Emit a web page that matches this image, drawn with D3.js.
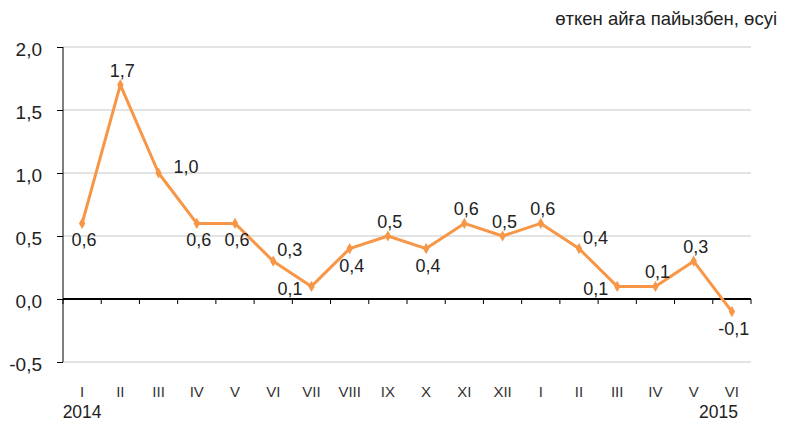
<!DOCTYPE html>
<html lang="kk">
<head>
<meta charset="UTF-8">
<title>Chart</title>
<style>
  body { margin: 0; background: #fff; }
  svg { font-family: "Liberation Sans", Arial, sans-serif; }
  .grid line { stroke: #c8c8c8; stroke-width: 1; }
</style>
</head>
<body>
<svg id="chart" width="786" height="423"></svg>
<script src="https://d3js.org/d3.v7.min.js"></script>
<script>
// data
const months = ["I", "II", "III", "IV", "V", "VI", "VII", "VIII", "IX", "X", "XI", "XII",
                "I", "II", "III", "IV", "V", "VI"];
const values = [0.6, 1.7, 1.0, 0.6, 0.6, 0.3, 0.1, 0.4, 0.5, 0.4, 0.6, 0.5,
                0.6, 0.4, 0.1, 0.1, 0.3, -0.1];
const yTicks = [-0.5, 0, 0.5, 1.0, 1.5, 2.0];
const years = ["2014", "2015"];
const title = "өткен айға пайызбен, өсуі";
// where each value label sits relative to its point
const labelPos = ["below", "above", "right", "below", "below", "upright", "left", "below", "above",
                  "below", "above", "above", "above", "upright", "left", "above", "above", "below"];

const svg = d3.select("#chart");
const mLeft = 63, mRight = 751, mTop = 47, mBottom = 362;

const idx = months.map((m, i) => i);
const x = d3.scaleBand().domain(idx).range([mLeft, mRight]);
const y = d3.scaleLinear().domain([-0.5, 2.0]).range([mBottom, mTop]);
const cx = i => x(i) + x.bandwidth() / 2;
const fmt = d => d3.format(".1f")(d).replace(".", ",").replace("−", "-");

// gridlines
svg.append("g").attr("class", "grid")
  .selectAll("line")
  .data(yTicks.filter(d => d !== 0))
  .enter().append("line")
  .attr("x1", mLeft).attr("x2", mRight)
  .attr("y1", d => y(d)).attr("y2", d => y(d));

// y axis
const yAxis = d3.axisLeft(y).tickValues(yTicks).tickSize(6).tickPadding(15).tickFormat(fmt);
const gy = svg.append("g").attr("transform", `translate(${mLeft},0)`).call(yAxis);
gy.select(".domain").attr("stroke", "#000").attr("d", `M0,${y(2.0)}V${y(-0.5)}`);
gy.selectAll(".tick line").attr("stroke", "#000");
gy.selectAll(".tick text").attr("font-size", 19).attr("fill", "#222").attr("dy", "0.45em");

// zero line with band ticks
const gz = svg.append("g").attr("transform", `translate(0,${y(0)})`);
gz.append("line").attr("x1", mLeft).attr("x2", mRight).attr("stroke", "#000").attr("stroke-width", 2);
gz.selectAll("line.t")
  .data(d3.range(months.length + 1))
  .enter().append("line").attr("class", "t")
  .attr("x1", i => i < months.length ? x(i) : mRight)
  .attr("x2", i => i < months.length ? x(i) : mRight)
  .attr("y1", 0).attr("y2", 5).attr("stroke", "#000");

// month labels
svg.append("g").selectAll("text")
  .data(months)
  .enter().append("text")
  .attr("x", (d, i) => cx(i))
  .attr("y", 397)
  .attr("text-anchor", "middle")
  .attr("font-size", 15).attr("fill", "#333")
  .text(d => d);

svg.append("text").attr("x", cx(0)).attr("y", 418).attr("text-anchor", "middle")
  .attr("font-size", 17.5).attr("fill", "#222").text(years[0]);
svg.append("text").attr("x", 738).attr("y", 418).attr("text-anchor", "end")
  .attr("font-size", 17.5).attr("fill", "#222").text(years[1]);

// title
svg.append("text").attr("x", 777).attr("y", 25).attr("text-anchor", "end")
  .attr("font-size", 18.5).attr("fill", "#222").text(title);

// line
const line = d3.line().x((d, i) => cx(i)).y(d => y(d));
svg.append("path").datum(values)
  .attr("d", line)
  .attr("fill", "none")
  .attr("stroke", "#F79646")
  .attr("stroke-width", 3)
  .attr("stroke-linejoin", "round");

svg.append("g").selectAll("path")
  .data(values)
  .enter().append("path")
  .attr("d", d3.symbol(d3.symbolDiamond, 36))
  .attr("transform", (d, i) => `translate(${cx(i)},${y(d)})`)
  .attr("fill", "#F79646");

// value labels
const off = {
  above: [2, -8, "middle"],
  below: [2, 23, "middle"],
  right: [15, 0, "start"],
  upright: [4, -5, "start"],
  left: [-9, 9, "end"]
};
svg.append("g").selectAll("text")
  .data(values)
  .enter().append("text")
  .attr("x", (d, i) => cx(i) + off[labelPos[i]][0])
  .attr("y", (d, i) => y(d) + off[labelPos[i]][1])
  .attr("text-anchor", (d, i) => off[labelPos[i]][2])
  .attr("font-size", 18).attr("fill", "#222")
  .text(fmt);
</script>
</body>
</html>
